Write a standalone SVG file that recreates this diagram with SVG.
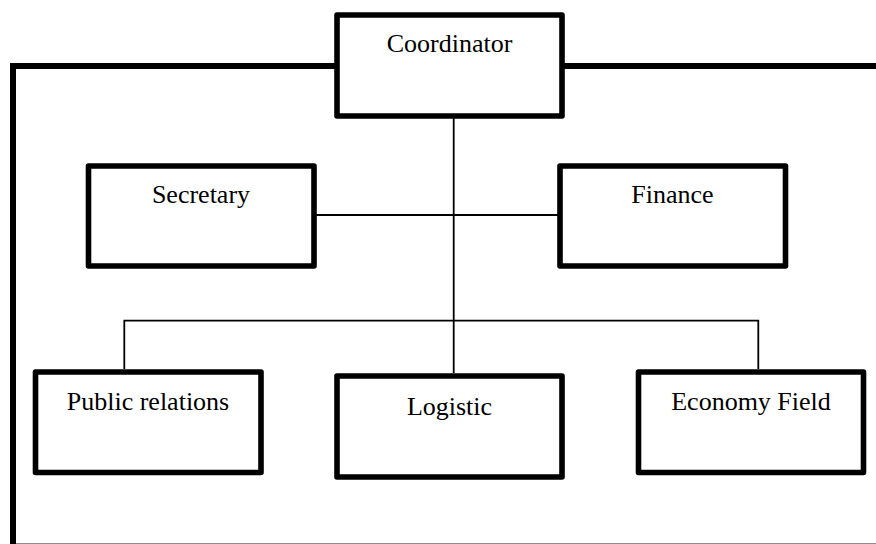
<svg xmlns="http://www.w3.org/2000/svg" width="876" height="544" viewBox="0 0 876 544">
<style>
.box{fill:#fff;stroke:#000;stroke-width:5.6;stroke-linejoin:round}
.frame{fill:none;stroke:#000;stroke-width:6;stroke-linejoin:miter}
.conn{fill:none;stroke:#000;stroke-width:1.8}
.lbl{font-family:"Liberation Serif","Times New Roman",serif;font-size:26px;fill:#000;text-anchor:middle}
</style>
<rect width="876" height="544" fill="#fff"/>
<g id="frame">
<path class="frame" d="M13,544 V66 H337"/>
<path class="frame" d="M562,66 H876"/>
<line x1="16" y1="543.5" x2="876" y2="543.5" stroke="#8c8c8c" stroke-width="1.2"/>
</g>
<g id="connectors">
<path class="conn" d="M453.7,118 V373"/>
<path class="conn" d="M316,215 H558"/>
<path class="conn" d="M124.3,369 V320.7 H758.3 V369"/>
</g>
<g id="coordinator">
<rect class="box" x="337" y="15" width="225" height="101"/>
<text class="lbl" x="449.5" y="52">Coordinator</text>
</g>
<g id="secretary">
<rect class="box" x="88.5" y="166" width="225.5" height="100"/>
<text class="lbl" x="201" y="203">Secretary</text>
</g>
<g id="finance">
<rect class="box" x="560" y="166" width="225.5" height="100"/>
<text class="lbl" x="672.5" y="203">Finance</text>
</g>
<g id="public-relations">
<rect class="box" x="35.5" y="372" width="225.5" height="100.5"/>
<text class="lbl" x="148" y="410">Public relations</text>
</g>
<g id="logistic">
<rect class="box" x="337" y="376" width="225" height="101"/>
<text class="lbl" x="449.5" y="415">Logistic</text>
</g>
<g id="economy-field">
<rect class="box" x="638.5" y="372" width="225" height="100.5"/>
<text class="lbl" x="751" y="410">Economy Field</text>
</g>
</svg>
